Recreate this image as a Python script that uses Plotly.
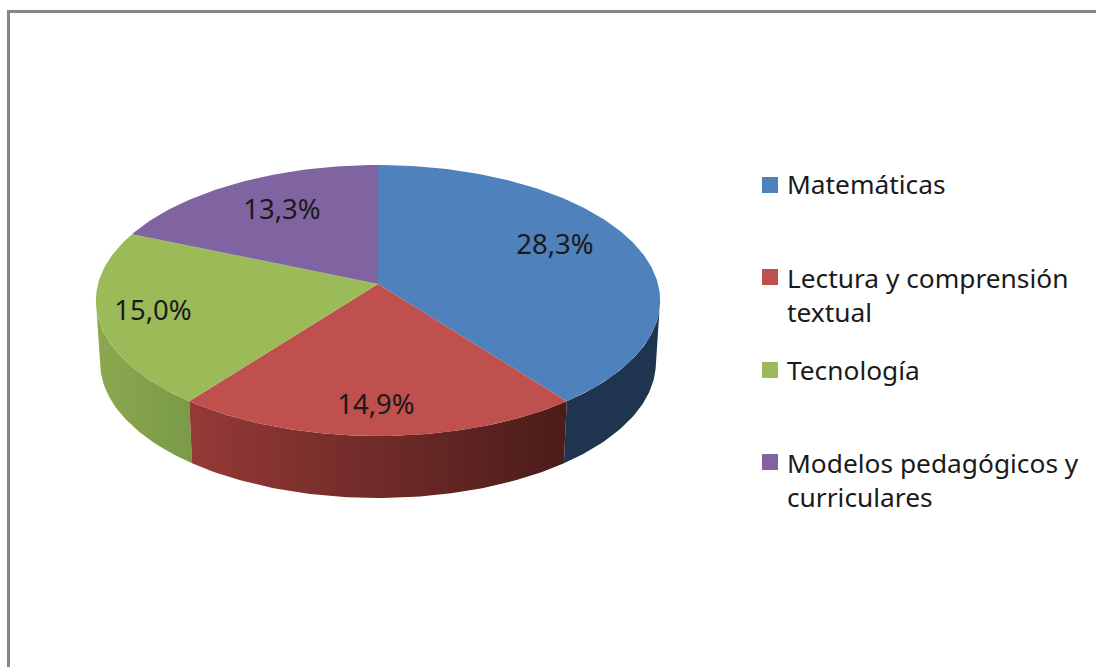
import math
import plotly.graph_objects as go

categories = ["Matemáticas", "Lectura y comprensión<br>textual", "Tecnología", "Modelos pedagógicos y<br>curriculares"]
values = [28.3, 14.9, 15.0, 13.3]
top_colors = ["#4F81BD", "#C0504D", "#9BBB59", "#8064A2"]
side_colors = [("#1F344F", "#1F344F"), ("#953A37", "#4A1C1A"), ("#8CA850", "#7A9A48")]
label_xy = [(555, 247), (376, 407), (153, 313), (282, 212)]
legend_y = [185, 277, 370, 462]
text_y = [184, 295, 370, 480]

W, H = 1096, 667
CX, CY = 378, 284      # apex of the pie on the canvas
RX, RY, PERSP = 280, 133.5, 0.122
DEPTH, SHRINK = 62, 0.985
FONT = "Noto Sans"
LABEL_SIZE = 27.5
LEGEND_SIZE = 26.3
RIGHT_TANGENT = math.pi - math.asin(PERSP)
LEFT_TANGENT = math.pi + math.asin(PERSP)
RIGHT_TANGENT, LEFT_TANGENT = math.pi / 2 + math.asin(PERSP), 3 * math.pi / 2 - math.asin(PERSP)


def project(theta, r=1.0, drop=0.0, shrink=1.0):
    X, Z = r * math.sin(theta), r * math.cos(theta)
    d = 1 + PERSP * Z
    return CX + shrink * RX * X / d, CY + drop - RY * Z / d


def arc(a0, a1, **kw):
    n = max(int(abs(a1 - a0) * 60), 2)
    return [project(a0 + (a1 - a0) * i / n, **kw) for i in range(n + 1)]


total = sum(values)
edges = [0.0]
for v in values:
    edges.append(edges[-1] + v / total * 2 * math.pi)

fig = go.Figure()

# side walls of the visible front half, clipped at the silhouette tangents
for i in [0, 2, 1]:
    a0 = max(edges[i], RIGHT_TANGENT)
    a1 = min(edges[i + 1], LEFT_TANGENT)
    pts = arc(a0, a1) + arc(a0, a1, drop=DEPTH, shrink=SHRINK)[::-1]
    xs, ys = zip(*pts)
    fig.add_trace(go.Scatter(
        x=xs + (xs[0],), y=ys + (ys[0],), mode="lines", line=dict(width=0),
        fill="toself",
        fillgradient=dict(type="horizontal", colorscale=[[0, side_colors[i][0]], [1, side_colors[i][1]]]),
        hoverinfo="skip", showlegend=False))

# top faces
for i in range(len(values)):
    pts = [project(0, r=0)] + arc(edges[i], edges[i + 1])
    xs, ys = zip(*pts)
    fig.add_trace(go.Scatter(
        x=xs + (xs[0],), y=ys + (ys[0],), mode="lines", line=dict(width=0),
        fill="toself", fillcolor=top_colors[i], name=categories[i].replace("<br>", " "),
        hoverinfo="name", showlegend=False))

# data labels
fig.add_trace(go.Scatter(
    x=[p[0] for p in label_xy], y=[p[1] for p in label_xy], mode="text",
    text=[f"{v:.1f}%".replace(".", ",") for v in values],
    textposition="middle center", textfont=dict(family=FONT, size=LABEL_SIZE, color="#1a1a1a"),
    hoverinfo="skip", showlegend=False))

# legend swatches
fig.add_trace(go.Scatter(
    x=[770] * len(values), y=legend_y, mode="markers",
    marker=dict(symbol="square", size=16, color=top_colors, line=dict(width=0)),
    hoverinfo="skip", showlegend=False))

# legend text
for c, y in zip(categories, text_y):
    fig.add_annotation(x=785, y=y, xref="x", yref="y", text=c, showarrow=False,
                       xanchor="left", yanchor="middle", align="left",
                       font=dict(family=FONT, size=LEGEND_SIZE, color="#1a1a1a"))

# chart frame
fig.add_shape(type="path", path=f"M 8.5 {H} L 8.5 11.5 L {W} 11.5", xref="x", yref="y",
              line=dict(color="#868686", width=3))

fig.update_xaxes(range=[0, W], visible=False, fixedrange=True)
fig.update_yaxes(range=[H, 0], visible=False, fixedrange=True)
fig.update_layout(width=W, height=H, margin=dict(l=0, r=0, t=0, b=0),
                  paper_bgcolor="white", plot_bgcolor="white", showlegend=False)
fig.write_html("out.html", post_script="document.body.style.margin='0';document.body.style.overflow='hidden';",
               config=dict(displayModeBar=False))
